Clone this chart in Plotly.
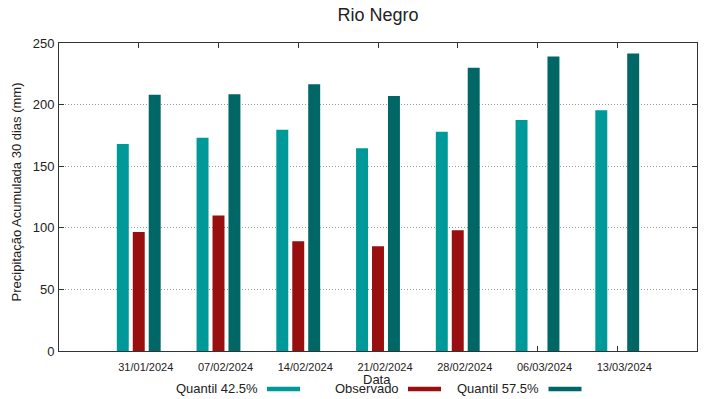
import plotly.graph_objects as go

dates = ["31/01/2024", "07/02/2024", "14/02/2024", "21/02/2024",
         "28/02/2024", "06/03/2024", "13/03/2024"]
q425 = [168, 173, 179.5, 164.5, 178, 187.5, 195.5]
observado = [96.5, 110, 89, 85, 98, None, None]
q575 = [208, 208.5, 216.5, 207, 230, 239, 241.5]

names = ["Quantil 42.5%", "Observado", "Quantil 57.5%"]
colors = ["#009999", "#990e0e", "#006666"]
offsets = [-0.275, -0.075, 0.125]
series = [q425, observado, q575]

pos = list(range(len(dates)))

fig = go.Figure()
for name, vals, col, off in zip(names, series, colors, offsets):
    fig.add_trace(go.Bar(
        x=pos, y=vals, name=name, width=0.15, offset=off,
        marker=dict(color=col, line=dict(width=0)),
        showlegend=False,
    ))

W, H = 719, 399
L, R, T, B = 59, 22, 43, 48
pw, ph = W - L - R, H - T - B


def px(xp):
    return (xp - L) / pw


def py(yp):
    return (H - B - yp) / ph


annotations = [
    dict(text="Data", x=px(377), y=py(379), xref="paper", yref="paper",
         showarrow=False, font=dict(size=13), xanchor="center", yanchor="middle"),
    dict(text="Precipitação Acumulada 30 dias (mm)", x=(16.7 - L) / pw, y=py(191.7),
         xref="paper", yref="paper", showarrow=False, textangle=-90,
         font=dict(size=13), xanchor="center", yanchor="middle"),
]
shapes = []
legend_text_right = [260, 401, 541]
legend_sample = [(267, 300), (408, 441), (548.5, 581.5)]
for name, col, tr, (s0, s1) in zip(names, colors, legend_text_right, legend_sample):
    annotations.append(dict(text=name, x=px(tr), y=py(388), xref="paper", yref="paper",
                            showarrow=False, font=dict(size=13),
                            xanchor="right", yanchor="middle"))
    shapes.append(dict(type="line", xref="paper", yref="paper",
                       x0=px(s0), x1=px(s1), y0=py(389), y1=py(389),
                       line=dict(color=col, width=4.5)))

fig.update_layout(
    width=W, height=H,
    margin=dict(l=L, r=R, t=T, b=B, pad=0),
    paper_bgcolor="white", plot_bgcolor="white",
    font=dict(family="Liberation Sans, Arial, sans-serif", color="#222222"),
    title=dict(text="Rio Negro", x=0.5, xref="paper", xanchor="center",
               y=1 - 15 / H, yanchor="middle", font=dict(size=18)),
    barmode="overlay",
    annotations=annotations,
    shapes=shapes,
)

fig.update_xaxes(
    range=[-1, 7], tickvals=pos, ticktext=dates,
    ticks="inside", ticklen=5, tickcolor="#333333", tickwidth=1,
    showline=True, linecolor="#333333", linewidth=1, mirror="ticks",
    showgrid=False, zeroline=False, tickfont=dict(size=11),
    ticklabelshift=7, ticklabelstandoff=6, layer="below traces",
)
fig.update_yaxes(
    range=[0, 250], tickvals=[0, 50, 100, 150, 200, 250],
    ticks="inside", ticklen=5, tickcolor="#333333", tickwidth=1,
    showline=True, linecolor="#333333", linewidth=1, mirror="ticks",
    showgrid=True, gridcolor="#999999", griddash="1px,2px", gridwidth=1,
    zeroline=False, tickfont=dict(size=13), ticklabelstandoff=1,
)

fig.write_html("out.html",
               config={"displayModeBar": False, "staticPlot": True},
               post_script="document.body.style.margin='0';document.body.style.padding='0';")
